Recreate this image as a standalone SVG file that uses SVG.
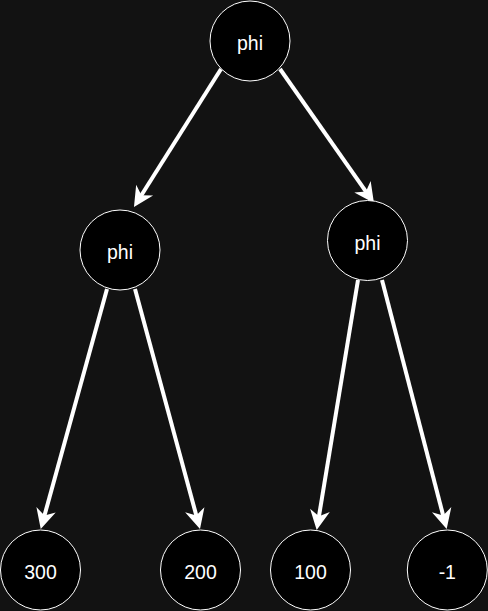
<svg xmlns="http://www.w3.org/2000/svg" width="488" height="611" viewBox="0 0 488 611">
<defs>
<style>
.node circle{fill:#000;stroke:#fff;stroke-width:1}
.node text{fill:#fff;font-family:"Liberation Sans",Arial,sans-serif;font-size:19.5px;text-anchor:middle}
.edge{stroke:#fff;stroke-width:4;fill:none}
</style>
<marker id="arr" markerUnits="userSpaceOnUse" markerWidth="26" markerHeight="26" viewBox="-9 -13 26 26" refX="0" refY="0" orient="auto">
<path d="M13 0 L-7 -10 L-1 0 L-7 10 Z" fill="#fff"/>
</marker>
</defs>
<rect width="488" height="611" fill="#121212"/>
<g id="connectors">
<path class="edge" d="M221 69 L140.9 196" marker-end="url(#arr)"/>
<path class="edge" d="M280 69 L366.5 192.4" marker-end="url(#arr)"/>
<path class="edge" d="M107 289 L44.2 516.5" marker-end="url(#arr)"/>
<path class="edge" d="M135 289 L196.6 516.5" marker-end="url(#arr)"/>
<path class="edge" d="M358 280 L318.8 517.2" marker-end="url(#arr)"/>
<path class="edge" d="M382 280 L443.4 516.4" marker-end="url(#arr)"/>
</g>
<g id="n-root" class="node"><circle cx="250" cy="41" r="40"/><text x="250" y="50">phi</text></g>
<g id="n-left" class="node"><circle cx="120" cy="250" r="40"/><text x="120" y="259">phi</text></g>
<g id="n-right" class="node"><circle cx="367.5" cy="240.5" r="40"/><text x="367.5" y="249.5">phi</text></g>
<g id="n-300" class="node"><circle cx="40.5" cy="570" r="40"/><text x="40.5" y="579">300</text></g>
<g id="n-200" class="node"><circle cx="200.5" cy="570" r="40"/><text x="200.5" y="579">200</text></g>
<g id="n-100" class="node"><circle cx="310.5" cy="570" r="40"/><text x="310.5" y="579">100</text></g>
<g id="n-m1" class="node"><circle cx="447.3" cy="570" r="40"/><text x="447.3" y="579">-1</text></g>
</svg>
